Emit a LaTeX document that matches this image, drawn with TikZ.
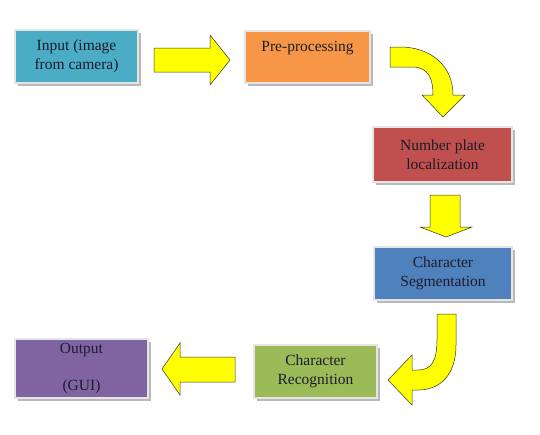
\documentclass[tikz,border=0pt]{standalone}
\usepackage{fontspec}
\setmainfont{Liberation Serif}
\usetikzlibrary{shadows}
\definecolor{cteal}{HTML}{4BACC6}
\definecolor{corange}{HTML}{F79646}
\definecolor{cred}{HTML}{C0504D}
\definecolor{cblue}{HTML}{4F81BD}
\definecolor{cgreen}{HTML}{9BBB59}
\definecolor{cpurple}{HTML}{8064A2}
\definecolor{ctext}{HTML}{1C1C2A}
\definecolor{cyel}{HTML}{FFFF00}
\tikzset{
  box/.style={draw=white!80!gray, line width=1.2pt, inner sep=0pt, align=center,
    text=ctext, font=\rmfamily\fontsize{15.5}{19}\selectfont,
    general shadow={fill=gray!55, shadow xshift=3pt, shadow yshift=-3pt}},
  blockarrow/.style={fill=cyel, draw=black!80, line width=0.5pt, line join=miter}
}
\begin{document}
\begin{tikzpicture}[x=1pt,y=-1pt]
\path[fill=white] (0,0) rectangle (540,434);
\useasboundingbox (0,0) rectangle (540,434);

\node[box, fill=cteal, minimum width=123pt, minimum height=53pt] (inp) at (76.5,56.5) {Input (image\\from camera)};
\node[box, fill=corange, minimum width=125pt, minimum height=52pt] (pre) at (307.5,57) {Pre-processing\\[2pt]~};
\node[box, fill=cred, minimum width=139pt, minimum height=55pt] (npl) at (442.5,154.5) {Number plate\\localization};
\node[box, fill=cblue, minimum width=138pt, minimum height=53pt] (seg) at (443,273.5) {Character\\Segmentation};
\node[box, fill=cgreen, minimum width=123pt, minimum height=53pt] (rec) at (315.5,371.5) {Character\\Recognition};
\node[box, fill=cpurple, minimum width=133pt, minimum height=59pt] (out) at (81.5,368.5) {Output\\[18pt](GUI)};

% right arrow
\draw[blockarrow] (154,48) -- (210,48) -- (210,35) -- (230,60) -- (210,85) -- (210,72) -- (154,72) -- cycle;
% curved arrow pre -> npl
\draw[blockarrow] (390,47) -- (400,47) .. controls (430,47) and (453,65) .. (453,95)
  -- (465,95) -- (443,117) -- (422,95) -- (433,95)
  .. controls (433,78) and (428,67) .. (412,67) -- (390,67) -- cycle;
% down arrow
\draw[blockarrow] (430,195) -- (460,195) -- (460,227) -- (472,227) -- (446,237) -- (420,227) -- (430,227) -- cycle;
% curved arrow seg -> rec
\draw[blockarrow] (437,314) -- (456,314) -- (456,345) .. controls (456,375) and (440,390) .. (418,390)
  -- (412,390) -- (412,405) -- (388,380) -- (412,355) -- (412,370) -- (418,370)
  .. controls (432,370) and (437,360) .. (437,340) -- cycle;
% left arrow
\draw[blockarrow] (235,357) -- (180,357) -- (180,343) -- (162,369) -- (180,395) -- (180,382) -- (235,382) -- cycle;
\end{tikzpicture}
\end{document}
